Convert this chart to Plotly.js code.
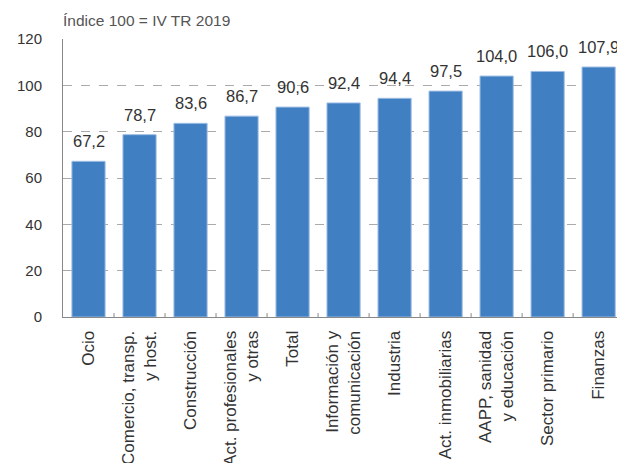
<!DOCTYPE html>
<html><head><meta charset="utf-8">
<script src="https://cdn.plot.ly/plotly-3.0.1.min.js"></script>
<style>html,body{margin:0;padding:0;background:#fff;}#c{width:617px;height:463px;}</style>
</head><body><div id="c"></div>
<script>
const categories = ["Ocio","Comercio, transp.<br>y host.","Construcción","Act. profesionales<br>y otras","Total","Información y<br>comunicación","Industria","Act. inmobiliarias","AAPP, sanidad<br>y educación","Sector primario","Finanzas"];
const values = [67.2, 78.7, 83.6, 86.7, 90.6, 92.4, 94.4, 97.5, 104.0, 106.0, 107.9];
const yTicks = [0, 20, 40, 60, 80, 100, 120];
const titleText = "Índice 100 = IV TR 2019";

const labels = values.map(v => v.toFixed(1).replace('.', ','));
const FONT = "Liberation Sans, Arial, sans-serif";
const idx = categories.map((c, i) => i);

Plotly.newPlot('c', [{
  type: 'bar',
  x: idx,
  y: values,
  marker: {color: '#3F7FC2', line: {color: '#9dbde3', width: 1}},
  hoverinfo: 'none'
}], {
  width: 617, height: 463,
  margin: {l: 63, r: 0, t: 39, b: 146},
  paper_bgcolor: '#fff', plot_bgcolor: '#fff',
  bargap: 0.35,
  showlegend: false,
  font: {family: FONT, size: 15, color: '#333'},
  title: {text: titleText, font: {family: FONT, size: 15.5, color: '#555'},
          xref: 'paper', x: 0, xanchor: 'left', yref: 'container', y: 1 - 15/463, yanchor: 'top'},
  xaxis: {
    type: 'linear', range: [-0.5, 10.36], tickmode: 'array',
    tickvals: idx, ticktext: categories,
    tickangle: -90, tickfont: {family: FONT, size: 17, color: '#333'},
    showgrid: false, zeroline: false, showline: true, linecolor: '#888', linewidth: 1,
    ticks: '', ticklabelstandoff: 6, automargin: false, fixedrange: true
  },
  yaxis: {
    range: [0, 120], tickmode: 'array', tickvals: yTicks, ticktext: yTicks.map(String),
    tickfont: {family: FONT, size: 15, color: '#333'},
    showgrid: true, gridcolor: '#aaa', griddash: 'dash', gridwidth: 1,
    zeroline: false, showline: true, linecolor: '#888', linewidth: 1,
    ticks: '', ticklabelstandoff: 17, automargin: false, fixedrange: true
  },
  annotations: values.map((v, i) => ({
    x: i, y: v, xref: 'x', yref: 'y', text: labels[i], showarrow: false,
    yanchor: 'bottom', xanchor: 'center', yshift: 9,
    font: {family: FONT, size: 16.5, color: '#333'}
  })),
  shapes: categories.slice(1).map((c, i) => ({
    type: 'line', xref: 'x', yref: 'paper', x0: i + 0.5, x1: i + 0.5, y0: 0, y1: 0.014,
    line: {color: '#888', width: 1}
  }))
}, {staticPlot: true});
</script></body></html>
